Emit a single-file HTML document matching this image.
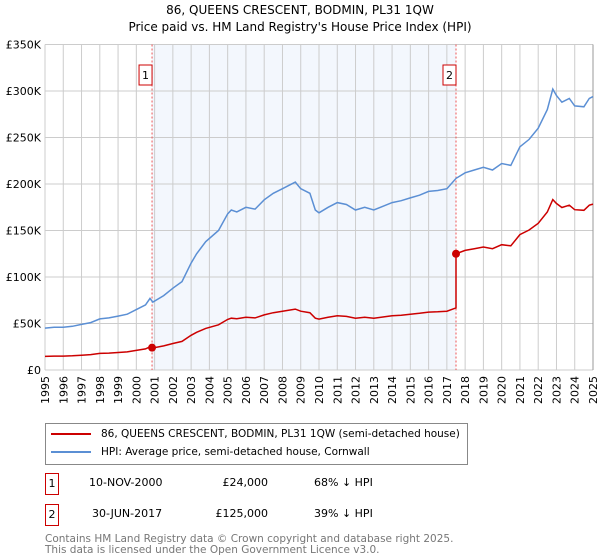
<!DOCTYPE html>
<html><head><meta charset="utf-8"><style>
body{margin:0;background:#fff;font-family:"DejaVu Sans","Liberation Sans",sans-serif;}
#wrap{position:relative;width:600px;height:560px;overflow:hidden;}
.t{position:absolute;font-size:11px;color:#000;white-space:nowrap}
</style></head><body>
<div id="wrap">
<svg id="chart" width="600" height="420" style="position:absolute;left:0;top:0;font-family:'DejaVu Sans',sans-serif"></svg>
<div style="position:absolute;left:45px;top:423px;width:421px;height:40px;border:1px solid #888;font-size:10.5px">
 <div style="position:absolute;left:5px;top:4px;white-space:nowrap"><span style="display:inline-block;width:40px;height:2px;background:#cc0000;vertical-align:middle;margin-right:10px"></span>86, QUEENS CRESCENT, BODMIN, PL31 1QW (semi-detached house)</div>
 <div style="position:absolute;left:5px;top:22px;white-space:nowrap"><span style="display:inline-block;width:40px;height:2px;background:#5b8fd4;vertical-align:middle;margin-right:10px"></span>HPI: Average price, semi-detached house, Cornwall</div>
</div>
<div style="position:absolute;left:45px;top:473px;width:12px;height:20px;border:1px solid #cc0000;font-size:11px;text-align:center;line-height:20px">1</div>
<div class="t" style="left:89px;top:476px">10-NOV-2000</div>
<div class="t" style="left:190px;width:78px;text-align:right;top:476px">£24,000</div>
<div class="t" style="left:314px;top:476px">68% ↓ HPI</div>
<div style="position:absolute;left:45px;top:504px;width:12px;height:20px;border:1px solid #cc0000;font-size:11px;text-align:center;line-height:20px">2</div>
<div class="t" style="left:92px;top:507px">30-JUN-2017</div>
<div class="t" style="left:190px;width:78px;text-align:right;top:507px">£125,000</div>
<div class="t" style="left:314px;top:507px">39% ↓ HPI</div>
<div class="t" style="left:45px;top:534px;color:#777;font-size:10.5px;line-height:11px">Contains HM Land Registry data © Crown copyright and database right 2025.<br>This data is licensed under the Open Government Licence v3.0.</div>
</div>
<script>
const hpiYears=[1995,1995.5,1996,1996.5,1997,1997.5,1998,1998.5,1999,1999.5,2000,2000.5,2000.75,2000.9,2001.5,2002,2002.5,2003,2003.3,2003.8,2004.5,2005,2005.2,2005.5,2006,2006.5,2007,2007.5,2008,2008.7,2009,2009.5,2009.8,2010,2010.5,2011,2011.5,2012,2012.5,2013,2013.5,2014,2014.5,2015,2015.5,2016,2016.5,2017,2017.5,2018,2018.5,2019,2019.5,2020,2020.5,2021,2021.5,2022,2022.5,2022.8,2023,2023.3,2023.7,2024,2024.5,2024.8,2025];
const hpiValues=[45000,46000,46000,47000,49000,51000,55000,56000,58000,60000,65000,70000,77000,73000,80000,88000,95000,115000,125000,138000,150000,168000,172000,170000,175000,173000,183000,190000,195000,202000,195000,190000,172000,169000,175000,180000,178000,172000,175000,172000,176000,180000,182000,185000,188000,192000,193000,195000,206000,212000,215000,218000,215000,222000,220000,240000,248000,260000,280000,302000,295000,288000,292000,284000,283000,292000,294000];
const saleDates=[2000.86,2017.5];
const salePrices=[24000,125000];
const yTicks=[0,50000,100000,150000,200000,250000,300000,350000];
const yTickLabels=["£0","£50K","£100K","£150K","£200K","£250K","£300K","£350K"];
const x0=45,x1=593,y0=370,y1=44.5;
const X=v=>x0+(v-1995)/30*(x1-x0);
const Y=v=>y0-v/350000*(y0-y1);
const svg=document.getElementById('chart');
const NS='http://www.w3.org/2000/svg';
function mk(t,a,p){const e=document.createElementNS(NS,t);for(const k in a)e.setAttribute(k,a[k]);(p||svg).appendChild(e);return e;}
function hpiAt(t){for(let i=1;i<hpiYears.length;i++){if(t<=hpiYears[i]){const f=(t-hpiYears[i-1])/(hpiYears[i]-hpiYears[i-1]);return hpiValues[i-1]+f*(hpiValues[i]-hpiValues[i-1]);}}return hpiValues[hpiValues.length-1];}
let t=mk('text',{x:300,y:14,'text-anchor':'middle','font-size':12});t.textContent='86, QUEENS CRESCENT, BODMIN, PL31 1QW';

t=mk('text',{x:300,y:31,'text-anchor':'middle','font-size':12});t.textContent="Price paid vs. HM Land Registry's House Price Index (HPI)";

let r=mk('rect',{x:X(saleDates[0]),y:y1,width:X(saleDates[1])-X(saleDates[0]),height:y0-y1,fill:'#eef3fc',opacity:0.7});

for(let yr=1995;yr<=2025;yr++){const g=mk('line',{x1:X(yr),x2:X(yr),y1:y1,y2:y0,stroke:'#ccc'});

const l=mk('text',{x:0,y:0,'font-size':11,'text-anchor':'end',transform:`translate(${X(yr)+4},${y0+6}) rotate(-90)`});l.textContent=yr;
}
yTicks.forEach((v,i)=>{const g=mk('line',{x1:x0,x2:x1,y1:Y(v),y2:Y(v),stroke:'#ccc'});

const l=mk('text',{x:x0-4,y:Y(v)+4,'font-size':11,'text-anchor':'end'});l.textContent=yTickLabels[i];
});
mk('line',{x1:x1,x2:x1,y1:y1,y2:y0,stroke:'#999'});
saleDates.forEach((d,i)=>{const v=mk('line',{x1:X(d),x2:X(d),y1:y1,y2:y0,stroke:'#e55','stroke-dasharray':'2,2'});

const b=mk('rect',{x:X(d)-13,y:65,width:13,height:20,fill:'#fff',stroke:'#cc0000'});

const tx=mk('text',{x:X(d)-6.5,y:79,'font-size':11,'text-anchor':'middle'});tx.textContent=i+1;
});
let hp=hpiYears.map((y,i)=>X(y).toFixed(1)+','+Y(hpiValues[i]).toFixed(1)).join(' ');
let hl=mk('polyline',{points:hp,fill:'none',stroke:'#5b8fd4','stroke-width':1.5});

const r1=salePrices[0]/hpiAt(saleDates[0]),r2=salePrices[1]/hpiAt(saleDates[1]);
let pts=[];
hpiYears.forEach((y,i)=>{if(y<saleDates[1])pts.push([y,hpiValues[i]*r1]);});
pts.push([saleDates[1],hpiAt(saleDates[1])*r1]);pts.push([saleDates[1],salePrices[1]]);
hpiYears.forEach((y,i)=>{if(y>saleDates[1])pts.push([y,hpiValues[i]*r2]);});
let pl=mk('polyline',{points:pts.map(p=>X(p[0]).toFixed(1)+','+Y(p[1]).toFixed(1)).join(' '),fill:'none',stroke:'#cc0000','stroke-width':1.5});

saleDates.forEach((d,i)=>{const c=mk('circle',{cx:X(d),cy:Y(salePrices[i]),r:4,fill:'#cc0000'});
});
</script>
</body></html>
